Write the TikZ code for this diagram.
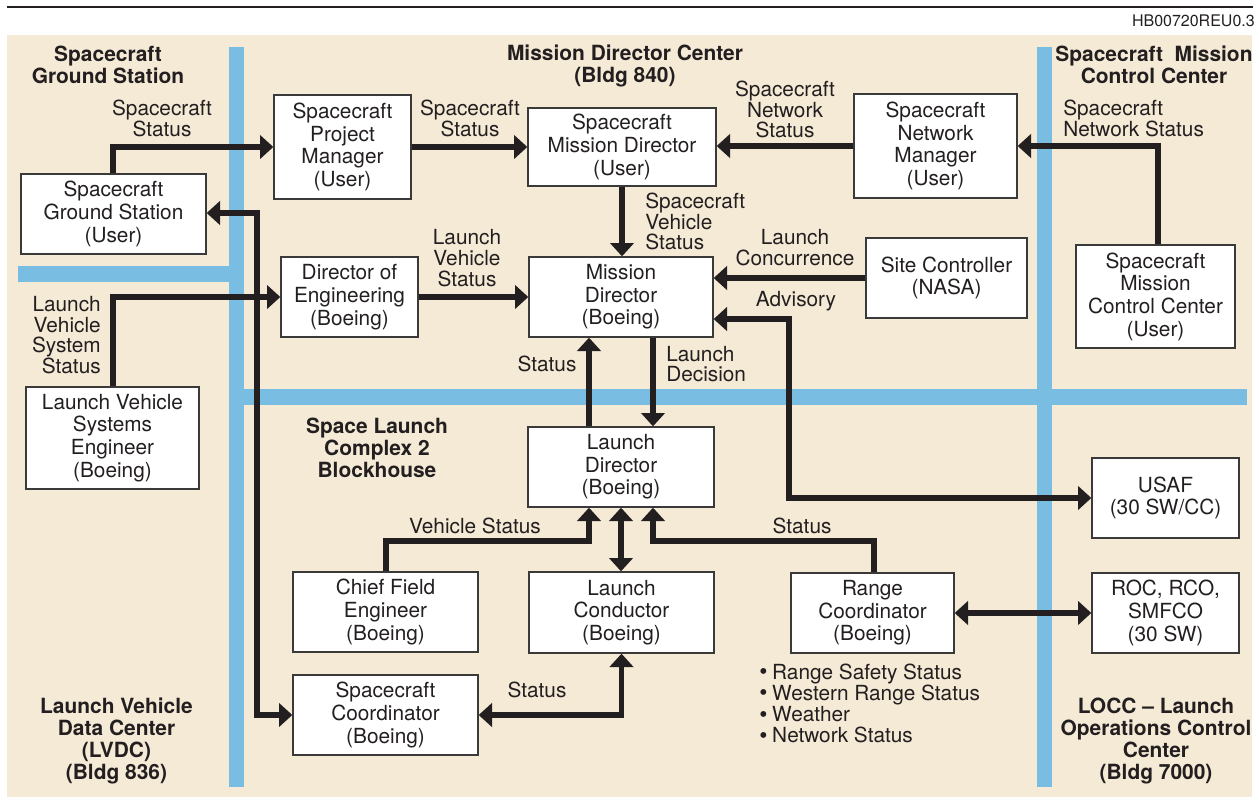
\documentclass[tikz,border=0pt]{standalone}
\usepackage{fontspec}
\setmainfont{TeX Gyre Heros}
\usetikzlibrary{arrows.meta}
\definecolor{ink}{HTML}{231F20}
\definecolor{beige}{HTML}{F5EAD6}
\definecolor{barblue}{HTML}{79BDE3}
\definecolor{edge}{HTML}{3A3A3A}
\newcommand\mkbox[6]{\node[box, minimum width={(#4-#2)*0.75pt}, minimum height={(#5-#3)*0.75pt}] (#1) at ({(#2+#4)/2},{(#3+#5)/2}) {#6};}
\newcommand\bul{\smash{\raisebox{-0.3pt}{\fontsize{17.5}{16}\selectfont\textbullet}}\hspace{3.6pt}}
\begin{document}
\begin{tikzpicture}[x=0.75pt,y=-0.75pt,
 box/.style={draw=edge, line width=1pt, fill=white, inner sep=0pt, align=center, text=ink, font=\fontsize{15.6}{17}\selectfont},
 lbl/.style={inner sep=0pt, align=center, text=ink, font=\fontsize{15.6}{15.5}\selectfont},
 ttl/.style={inner sep=0pt, align=center, text=ink, font=\fontsize{15.7}{16.3}\selectfont\bfseries},
 bitem/.style={lbl, anchor=base west},
 con/.style={draw=ink, line width=4.2pt},
 arr/.style={con, -{Triangle[length=10pt,width=17.5pt]}},
 dbl/.style={con, {Triangle[length=10pt,width=17.5pt]}-{Triangle[length=10pt,width=17.5pt]}},
]
\useasboundingbox (0,0) rectangle (1259,800);
% header
\draw[ink, line width=2pt] (7,7) -- (1253,7);
\node[anchor=base east, inner sep=0pt, text=ink, font=\fontsize{12}{14}\selectfont] (hdr) at (1255,26) {HB00720REU0.3};
% background
\fill[beige] (7,35) rectangle (1252,797);
% blue bars
\fill[barblue] (229,47) rectangle (244,787);
\fill[barblue] (1037,47) rectangle (1052,787);
\fill[barblue] (18,266) rectangle (229,282);
\fill[barblue] (244,389) rectangle (1247,405);
% area titles
\node[ttl] (t1) at (108,65) {Spacecraft\\Ground Station};
\node[ttl] (t2) at (625,66) {Mission Director Center\\(Bldg 840)};
\node[ttl] (t3) at (1154,65) {Spacecraft\ \ Mission\\Control Center};
\node[ttl] (t4) at (377,448) {Space Launch\\Complex 2\\Blockhouse};
\node[ttl] (t5) at (116.5,741) {Launch Vehicle\\Data Center\\(LVDC)\\(Bldg 836)};
\node[ttl] (t6) at (1156,741) {LOCC -- Launch\\Operations Control\\Center\\(Bldg 7000)};
% boxes
\mkbox{sgs}{21}{174}{206}{254}{Spacecraft\\Ground Station\\(User)}
\mkbox{spm}{274}{95}{411}{199}{Spacecraft\\Project\\Manager\\(User)}
\mkbox{smd}{528}{108}{716}{186}{Spacecraft\\Mission Director\\(User)}
\mkbox{snm}{854}{94}{1017}{198}{Spacecraft\\Network\\Manager\\(User)}
\mkbox{smcc}{1076}{245}{1235}{348}{Spacecraft\\Mission\\Control Center\\(User)}
\mkbox{site}{866}{238}{1027}{318}{Site Controller\\(NASA)}
\mkbox{md}{529}{257}{713}{337}{Mission\\Director\\(Boeing)}
\mkbox{doe}{281}{257}{418}{337}{Director of\\Engineering\\(Boeing)}
\mkbox{lvse}{26}{387}{199}{489}{Launch Vehicle\\Systems\\Engineer\\(Boeing)}
\mkbox{ld}{528}{427}{714}{507}{Launch\\Director\\(Boeing)}
\mkbox{cfe}{293}{572}{478}{652}{Chief Field\\Engineer\\(Boeing)}
\mkbox{lc}{529}{572}{714}{653}{Launch\\Conductor\\(Boeing)}
\mkbox{rc}{791}{573}{954}{653}{Range\\Coordinator\\(Boeing)}
\mkbox{usaf}{1092}{458}{1239}{538}{USAF\\(30 SW/CC)}
\mkbox{roc}{1092}{573}{1239}{653}{ROC, RCO,\\SMFCO\\(30 SW)}
\mkbox{sc}{293}{675}{478}{755}{Spacecraft\\Coordinator\\(Boeing)}
% connectors
\draw[arr] (113,0 |- sgs.north) |- (spm.west);
\draw[arr] (spm.east) -- (smd.west |- spm.east);
\draw[arr] (snm.west) -- (smd.east |- snm.west);
\draw[arr] (1158,0 |- smcc.north) |- (snm.east);
\draw[arr] (smd.south) -- (smd.south |- md.north);
\draw[arr] (doe.east) -- (md.west |- doe.east);
\draw[arr] (site.west) -- (md.east |- site.west);
\draw[dbl] (md.east |- 0,319) -| (789,0 |- usaf.west) -- (usaf.west);
\draw[arr] (589,0 |- ld.north) -- (589,0 |- md.south);
\draw[arr] (653,0 |- md.south) -- (653,0 |- ld.north);
\draw[dbl] (sgs.east |- 0,213) -| (257,0 |- sc.west) -- (sc.west);
\draw[arr] (113,0 |- lvse.north) |- (doe.west);
\draw[arr] (386,0 |- cfe.north) -- (386,541) -| (589,0 |- ld.south);
\draw[dbl] (ld.south) -- (ld.south |- lc.north);
\draw[arr] (874,0 |- rc.north) -- (874,541) -| (653,0 |- ld.south);
\draw[dbl] (rc.east) -- (roc.west |- rc.east);
\draw[dbl] (sc.east) -| (lc.south);
% connector labels
\node[lbl] (l1) at (162,118.5) {Spacecraft\\Status};
\node[lbl] (l2) at (470,118.5) {Spacecraft\\Status};
\node[lbl] (l3) at (785,109.5) {Spacecraft\\Network\\Status};
\node[lbl, anchor=west, align=left] (l4) at (1063,118.5) {Spacecraft\\Network Status};
\node[lbl, anchor=west, align=left] (l5) at (645,221.5) {Spacecraft\\Vehicle\\Status};
\node[lbl] (l6) at (467,258) {Launch\\Vehicle\\Status};
\node[lbl] (l7) at (795,247.5) {Launch\\Concurrence};
\node[lbl] (l8) at (796,301) {Advisory};
\node[lbl] (l9) at (547,364) {Status};
\node[lbl, anchor=west, align=left] (l10) at (666,364) {Launch\\Decision};
\node[lbl, anchor=east, align=right] (l11) at (101,335) {Launch\\Vehicle\\System\\Status};
\node[lbl] (l12) at (475,526) {Vehicle Status};
\node[lbl] (l13) at (802,526) {Status};
\node[lbl] (l14) at (537,690) {Status};
% range coordinator bullet list
\node[bitem] (b1) at (759,679) {\bul Range Safety Status};
\node[bitem] (b2) at (759,700.3) {\bul Western Range Status};
\node[bitem] (b3) at (759,721.6) {\bul Weather};
\node[bitem] (b4) at (759,742.9) {\bul Network Status};
\end{tikzpicture}
\end{document}
